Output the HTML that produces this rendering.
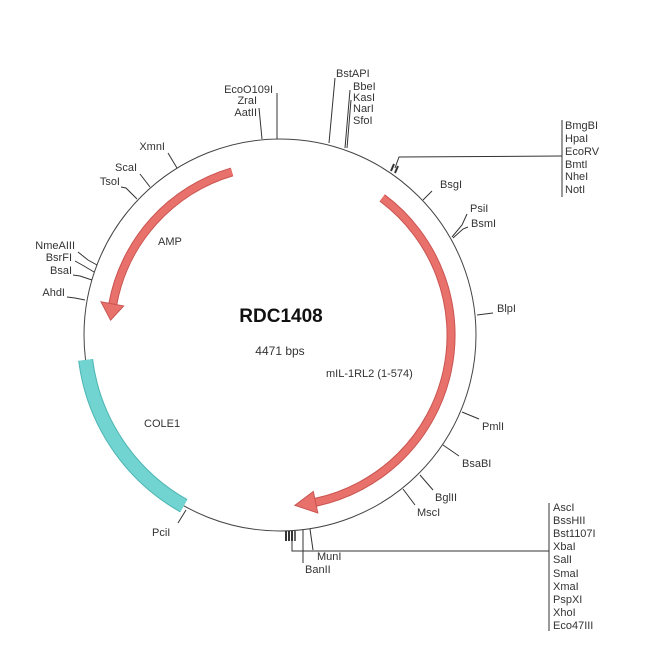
<!DOCTYPE html>
<html><head><meta charset="utf-8"><style>
html,body{margin:0;padding:0;background:#fff}
svg{display:block}
text{font-family:"Liberation Sans",Arial,sans-serif;font-size:11px;fill:#333}
</style></head><body>
<svg width="650" height="650" viewBox="0 0 650 650">
<rect width="650" height="650" fill="#fff"/>
<circle cx="280" cy="335" r="196" fill="none" stroke="#444" stroke-width="1"/>
<!-- COLE1 -->
<path d="M183.8,505.8 A196,196 0 0 1 85.6,359.9" fill="none" stroke="#4db5b2" stroke-width="15"/>
<path d="M183.8,505.8 A196,196 0 0 1 85.6,359.9" fill="none" stroke="#72d4d1" stroke-width="13"/>
<!-- AMP -->
<path d="M232,171.9 A170,170 0 0 0 112.8,304" fill="none" stroke="#c95450" stroke-width="9"/>
<path d="M232,171.9 A170,170 0 0 0 112.8,304" fill="none" stroke="#e8716c" stroke-width="7"/>
<polygon points="123.7,306 101,301.8 110.6,320.2" fill="#e8716c" stroke="#c95450" stroke-width="1"/>
<!-- mIL -->
<path d="M382.2,197.9 A171,171 0 0 1 315.6,502.3" fill="none" stroke="#c95450" stroke-width="9"/>
<path d="M382.2,197.9 A171,171 0 0 1 315.6,502.3" fill="none" stroke="#e8716c" stroke-width="7"/>
<polygon points="313.3,491.5 317.8,513 294.9,505.3" fill="#e8716c" stroke="#c95450" stroke-width="1"/>

<text x="281" y="322" text-anchor="middle" style="font-size:19px;font-weight:bold;fill:#111">RDC1408</text>
<text x="280" y="355" text-anchor="middle" style="font-size:12px">4471 bps</text>
<text x="326" y="377">mIL-1RL2 (1-574)</text>
<text x="158" y="245">AMP</text>
<text x="144" y="427">COLE1</text>

<g stroke="#333" stroke-width="1" fill="none">
<line x1="262" y1="139" x2="259" y2="108"/>
<line x1="277" y1="139" x2="277" y2="93"/>
<line x1="329" y1="143" x2="335" y2="78"/>
<line x1="345" y1="148" x2="350" y2="90"/>
<line x1="347" y1="148" x2="351" y2="100"/>
<polyline points="395,168 399,157 562,156"/>
<line x1="391" y1="171" x2="394" y2="164" stroke-width="2"/>
<line x1="395" y1="173" x2="398" y2="166" stroke-width="2"/>
<line x1="562" y1="120" x2="562" y2="197"/>
<line x1="423" y1="200" x2="432" y2="191"/>
<polyline points="452,237 462,225 467,214"/>
<polyline points="453,238 463,229 468,227"/>
<line x1="477" y1="315" x2="493" y2="313"/>
<line x1="462" y1="412" x2="479" y2="419"/>
<line x1="443" y1="445" x2="459" y2="456"/>
<line x1="420" y1="475" x2="433" y2="490"/>
<line x1="403" y1="489" x2="415" y2="505"/>
<line x1="186" y1="510" x2="178" y2="523"/>
<line x1="177" y1="168" x2="168" y2="153"/>
<line x1="150" y1="187" x2="140" y2="174"/>
<polyline points="137,199 126,188 121,187"/>
<polyline points="97,265 88,260 78,252"/>
<polyline points="94,272 84,266 75,261"/>
<polyline points="92,280 80,276 73,275"/>
<polyline points="85,300 75,298 67,297"/>
<!-- bottom group -->
<line x1="286" y1="531" x2="286" y2="541" stroke-width="2"/>
<line x1="289" y1="531" x2="289" y2="541" stroke-width="2"/>
<line x1="292" y1="531" x2="292" y2="541" stroke-width="2"/>
<line x1="295" y1="531" x2="295" y2="541" stroke-width="1.5"/>
<polyline points="292,535 292,551 549,551"/>
<line x1="303" y1="530" x2="303" y2="563"/>
<line x1="310" y1="529" x2="313" y2="550"/>
<line x1="549" y1="503" x2="549" y2="631"/>
</g>

<text x="273" y="93" text-anchor="end">EcoO109I</text>
<text x="257" y="104" text-anchor="end">ZraI</text>
<text x="257" y="116" text-anchor="end">AatII</text>
<text x="336" y="77">BstAPI</text>
<text x="353" y="90">BbeI</text>
<text x="353" y="101">KasI</text>
<text x="353" y="112">NarI</text>
<text x="353" y="124">SfoI</text>
<text x="565" y="129">BmgBI</text>
<text x="565" y="142">HpaI</text>
<text x="565" y="155">EcoRV</text>
<text x="565" y="168">BmtI</text>
<text x="565" y="180">NheI</text>
<text x="565" y="193">NotI</text>
<text x="440" y="188">BsgI</text>
<text x="470" y="212">PsiI</text>
<text x="471" y="227">BsmI</text>
<text x="497" y="312">BlpI</text>
<text x="482" y="430">PmlI</text>
<text x="462" y="467">BsaBI</text>
<text x="435" y="501">BglII</text>
<text x="417" y="516">MscI</text>
<text x="152" y="536">PciI</text>
<text x="317" y="560">MunI</text>
<text x="305" y="573">BanII</text>
<text x="165" y="150" text-anchor="end">XmnI</text>
<text x="137" y="171" text-anchor="end">ScaI</text>
<text x="120" y="185" text-anchor="end">TsoI</text>
<text x="75" y="249" text-anchor="end">NmeAIII</text>
<text x="72" y="261" text-anchor="end">BsrFI</text>
<text x="72" y="274" text-anchor="end">BsaI</text>
<text x="65" y="296" text-anchor="end">AhdI</text>
<text x="553" y="511">AscI</text>
<text x="553" y="524">BssHII</text>
<text x="553" y="537">Bst1107I</text>
<text x="553" y="550">XbaI</text>
<text x="553" y="563">SalI</text>
<text x="553" y="577">SmaI</text>
<text x="553" y="590">XmaI</text>
<text x="553" y="603">PspXI</text>
<text x="553" y="616">XhoI</text>
<text x="553" y="629">Eco47III</text>
</svg>
</body></html>
